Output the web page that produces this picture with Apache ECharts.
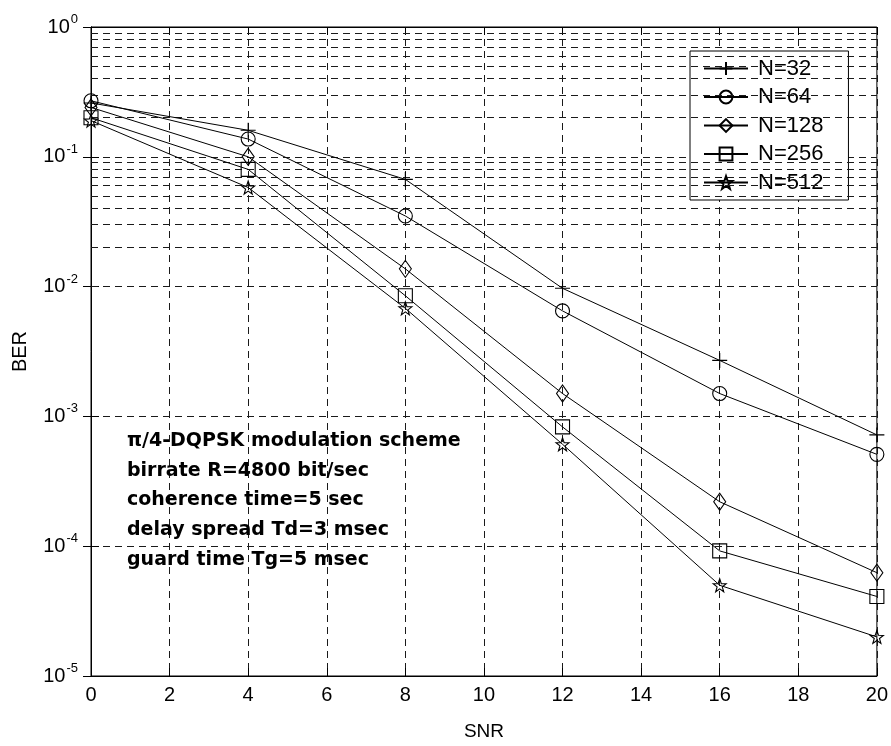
<!DOCTYPE html>
<html>
<head>
<meta charset="utf-8">
<script src="https://cdn.jsdelivr.net/npm/echarts@6/dist/echarts.min.js"></script>
<style>
  html, body { margin: 0; padding: 0; background: #fff; }
  #chart { width: 891px; height: 746px; }
</style>
</head>
<body>
<div id="chart"></div>
<script>
// SNR values (x) and bit error rates per FFT size N
const snr = [0, 4, 8, 12, 16, 20];
const ber32  = [0.26, 0.16, 0.067, 0.0097, 0.0027, 0.00072];
const ber64  = [0.27, 0.137, 0.035, 0.0065, 0.0015, 0.00051];
const ber128 = [0.24, 0.10, 0.0137, 0.0015, 0.00022, 0.0000625];
const ber256 = [0.20, 0.08, 0.0085, 0.00083, 0.000092, 0.000041];
const ber512 = [0.19, 0.058, 0.0068, 0.00061, 0.00005, 0.00002];
const seriesNames = ['N=32', 'N=64', 'N=128', 'N=256', 'N=512'];

// axis ranges and decade positions
const xMin = 0, xMax = 20, xStep = 2;
const decades = [1e-5, 1e-4, 1e-3, 1e-2, 1e-1];
const minorMultipliers = [2, 3, 4, 5, 6, 7, 8, 9];

const notes = [
  'π/4-DQPSK modulation scheme',
  'birrate R=4800 bit/sec',
  'coherence time=5 sec',
  'delay spread Td=3 msec',
  'guard time Tg=5 msec'
];

const FONT = '"Liberation Sans", Arial, Helvetica, sans-serif';
const NOTE_FONT = '"DejaVu Sans", Verdana, sans-serif';

// marker outlines
const plusPath = 'path://M0,10L20,10M10,0L10,20';
const starPath = 'path://M10,0L12.35,6.76L19.51,6.91L13.8,11.24L15.88,18.09L10,14L4.12,18.09L6.2,11.24L0.49,6.91L7.65,6.76Z';
const markers = [
  { symbol: plusPath, size: 15 },
  { symbol: 'circle', size: 14 },
  { symbol: 'diamond', size: [12, 17] },
  { symbol: 'rect', size: 14 },
  { symbol: starPath, size: 13 }
];
const berSets = [ber32, ber64, ber128, ber256, ber512];

const gridDash = [7, 5];
const gridColor = '#1a1a1a';

// minor log grid lines (2..9 within every decade)
const minorLines = [];
decades.forEach(d => minorMultipliers.forEach(m => minorLines.push({ yAxis: +(d * m).toPrecision(3) })));

function expLabel(v) {
  const e = Math.round(Math.log10(v));
  return '{b|10}{e|' + e + '}';
}

const dataSeries = berSets.map((set, i) => ({
  name: seriesNames[i],
  type: 'line',
  xAxisIndex: 0,
  yAxisIndex: 0,
  data: snr.map((x, k) => [x, set[k]]),
  symbol: markers[i].symbol,
  symbolSize: markers[i].size,
  showAllSymbol: true,
  lineStyle: { color: '#000', width: 1 },
  itemStyle: { color: 'rgba(0,0,0,0)', borderColor: '#000', borderWidth: 1.1 },
  emphasis: { disabled: true },
  animation: false,
  z: 5
}));

const gridSeries = {
  name: 'minor-grid',
  type: 'line',
  data: [],
  silent: true,
  z: 1,
  markLine: {
    silent: true,
    symbol: ['none', 'none'],
    label: { show: false },
    lineStyle: { color: gridColor, width: 1, type: gridDash },
    emphasis: { disabled: true },
    animation: false,
    data: minorLines
  }
};

const chart = echarts.init(document.getElementById('chart'), null, { renderer: 'canvas' });

chart.setOption({
  animation: false,
  backgroundColor: '#fff',
  textStyle: { fontFamily: FONT },
  grid: {
    left: 91, top: 27, width: 789, height: 649,
    show: true, borderColor: '#000', borderWidth: 1, backgroundColor: 'transparent'
  },
  legend: {
    data: seriesNames,
    orient: 'vertical',
    left: 690,
    top: 51,
    padding: [6.5, 25, 6.5, 13],
    itemWidth: 44,
    itemHeight: 16,
    itemGap: 6.5,
    backgroundColor: '#fff',
    borderColor: '#000',
    borderWidth: 1,
    borderRadius: 0,
    selectedMode: false,
    textStyle: { fontFamily: FONT, fontSize: 22, color: '#000', padding: [0, 0, 0, 5] }
  },
  xAxis: [{
    type: 'value',
    min: xMin, max: xMax, interval: xStep,
    name: 'SNR',
    nameLocation: 'middle',
    nameGap: 46,
    nameTextStyle: { fontFamily: FONT, fontSize: 19, color: '#000' },
    axisLine: { show: true, lineStyle: { color: '#000', width: 1 } },
    axisTick: { show: true, inside: true, length: 8, lineStyle: { color: '#000' } },
    axisLabel: { fontFamily: FONT, fontSize: 20, color: '#000', margin: 9 },
    splitLine: { show: true, lineStyle: { color: gridColor, width: 1, type: gridDash } }
  }, {
    type: 'value',
    position: 'top',
    min: xMin, max: xMax, interval: xStep,
    axisLine: { show: true, lineStyle: { color: '#000', width: 1 } },
    axisTick: { show: true, inside: true, length: 8, lineStyle: { color: '#000' } },
    axisLabel: { show: false },
    splitLine: { show: false }
  }],
  yAxis: [{
    type: 'log',
    logBase: 10,
    min: 1e-5, max: 1,
    name: 'BER',
    nameLocation: 'middle',
    nameRotate: 90,
    nameGap: 61,
    nameTextStyle: { fontFamily: FONT, fontSize: 20, color: '#000' },
    axisLine: { show: true, lineStyle: { color: '#000', width: 1 } },
    axisTick: { show: true, inside: true, length: 8, lineStyle: { color: '#000' } },
    axisLabel: {
      margin: 13,
      formatter: expLabel,
      rich: {
        b: { fontFamily: FONT, fontSize: 20, color: '#000', verticalAlign: 'bottom', lineHeight: 20 },
        e: { fontFamily: FONT, fontSize: 13, color: '#000', verticalAlign: 'bottom', lineHeight: 13, padding: [0, 0, 11, 1] }
      }
    },
    splitLine: { show: true, lineStyle: { color: gridColor, width: 1, type: gridDash } }
  }, {
    type: 'log',
    logBase: 10,
    position: 'right',
    min: 1e-5, max: 1,
    axisLine: { show: true, lineStyle: { color: '#000', width: 1 } },
    axisTick: { show: true, inside: true, length: 8, lineStyle: { color: '#000' } },
    axisLabel: { show: false },
    splitLine: { show: false }
  }],
  graphic: [{
    type: 'text',
    left: 127,
    top: 426,
    z: 10,
    style: {
      text: notes.join('\n'),
      fontFamily: NOTE_FONT,
      fontSize: 19,
      fontWeight: 'bold',
      lineHeight: 29.8,
      fill: '#000'
    }
  }],
  series: [gridSeries].concat(dataSeries)
});
</script>
</body>
</html>
